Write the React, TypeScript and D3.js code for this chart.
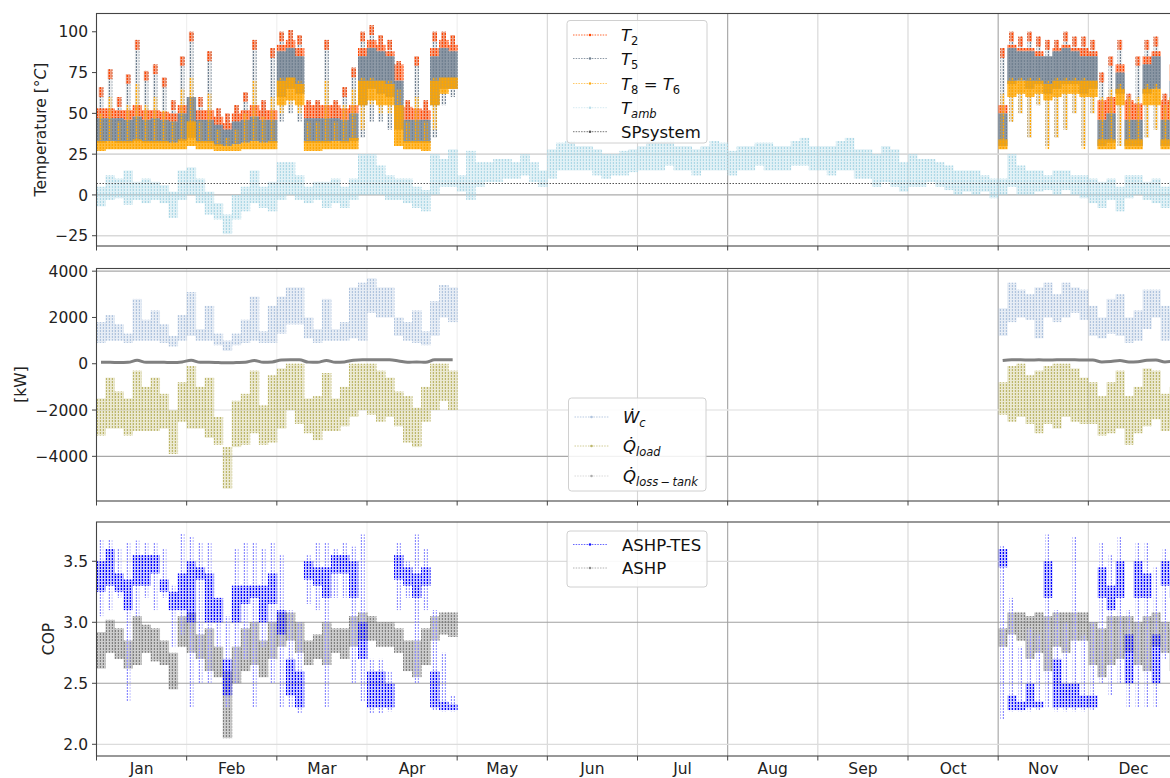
import React, { useEffect, useRef } from 'react';
import * as d3 from 'd3';

// x axis: hours of the year, 10 buckets of 73 h per month
const monthLabels = ['Jan', 'Feb', 'Mar', 'Apr', 'May', 'Jun', 'Jul', 'Aug', 'Sep', 'Oct', 'Nov', 'Dec'];
const HOURS_PER_MONTH = 730;
const BUCKET_HOURS = 73;

// buckets that hold heating-season data (Jan–Apr, Nov–Dec)
const heatingBuckets = [...d3.range(0, 40), ...d3.range(100, 120)];

// ---- panel 1: temperatures [°C] ----
const t2Top = [
  53, 53, 52, 52, 55, 52, 52, 51, 50, 55, 60, 52, 52, 48, 44, 50, 52, 55, 52, 52,
  92, 95, 90, 55, 55, 55, 55, 53, 55, 90, 95, 92, 88, 80, 54, 53, 52, 90, 95, 92,
  55, 92, 90, 90, 88, 85, 90, 92, 90, 90, 88, 58, 60, 80, 58, 56, 85, 88, 58, 80,
];
const t2Peak = [
  66, 77, 60, 74, 95, 76, 80, 72, 58, 85, 100, 60, 88, 53, 50, 55, 63, 95, 58, 90,
  100, 101, 98, 58, 58, 95, 58, 66, 78, 100, 104, 98, 95, 82, 58, 85, 58, 100, 100, 98,
  90, 100, 97, 100, 97, 95, 95, 100, 97, 97, 95, 75, 85, 95, 62, 85, 95, 97, 62, 85,
];
const t5Lo = [
  32, 33, 32, 32, 33, 32, 32, 32, 32, 33, 35, 32, 32, 30, 30, 31, 32, 33, 32, 32,
  60, 65, 62, 32, 32, 32, 33, 32, 33, 55, 65, 62, 60, 40, 32, 32, 32, 55, 65, 65,
  30, 68, 70, 65, 68, 62, 65, 68, 68, 62, 65, 30, 32, 62, 30, 30, 62, 65, 30, 55,
];
const t5Hi = [
  47, 47, 47, 46, 48, 46, 47, 46, 45, 50, 60, 46, 46, 43, 40, 45, 46, 48, 46, 46,
  88, 90, 85, 47, 47, 47, 47, 46, 50, 85, 90, 88, 85, 70, 46, 46, 46, 85, 90, 88,
  50, 90, 88, 88, 85, 85, 88, 90, 88, 85, 85, 46, 50, 75, 46, 46, 80, 85, 46, 70,
];
const t5Min = [
  32, 33, 32, 32, 33, 32, 32, 32, 32, 33, 35, 32, 32, 30, 30, 31, 32, 33, 32, 32,
  45, 50, 45, 32, 32, 32, 33, 32, 33, 35, 45, 45, 40, 32, 32, 32, 32, 35, 55, 60,
  30, 45, 50, 35, 55, 30, 35, 40, 50, 30, 50, 30, 30, 30, 30, 30, 35, 40, 30, 30,
];
const t8Lo = [
  27, 28, 28, 28, 28, 28, 28, 28, 28, 28, 30, 28, 28, 27, 27, 27, 28, 28, 28, 28,
  55, 58, 55, 27, 27, 28, 28, 28, 28, 55, 58, 55, 55, 30, 28, 28, 27, 55, 62, 65,
  28, 60, 62, 60, 62, 58, 60, 62, 62, 60, 60, 28, 28, 55, 28, 28, 55, 55, 28, 45,
];
const t8Hi = [
  33, 33, 33, 33, 34, 33, 33, 33, 32, 34, 45, 33, 33, 31, 30, 31, 32, 33, 32, 33,
  70, 72, 68, 33, 33, 33, 33, 33, 35, 70, 70, 70, 68, 55, 33, 33, 33, 70, 72, 72,
  34, 70, 70, 70, 70, 68, 70, 70, 70, 70, 70, 34, 34, 65, 34, 34, 65, 65, 34, 60,
];
const t8Min = [
  27, 28, 28, 28, 28, 28, 28, 28, 28, 28, 30, 28, 28, 27, 27, 27, 28, 28, 28, 28,
  50, 55, 50, 27, 27, 28, 28, 28, 28, 40, 55, 50, 50, 30, 28, 28, 27, 40, 62, 65,
  28, 45, 50, 35, 55, 28, 35, 40, 50, 28, 50, 28, 28, 30, 28, 28, 35, 40, 28, 30,
];
const t8Peak = [
  50, 60, 45, 55, 68, 55, 60, 52, 45, 65, 72, 45, 62, 40, 35, 40, 50, 70, 48, 60,
  72, 72, 70, 45, 45, 70, 45, 55, 65, 72, 72, 70, 70, 65, 45, 60, 45, 72, 72, 72,
  62, 72, 72, 72, 72, 70, 72, 72, 72, 72, 70, 60, 65, 68, 60, 60, 68, 68, 55, 62,
];
// ambient temperature, all 120 buckets
const tAmbLo = [
  -7, -3, -2, -6, -3, -5, -3, -5, -14, -3, 0, -5, -12, -15, -24, -15, -10, -5, -8, -10,
  -3, 0, -3, -5, -3, -8, -5, -8, -3, 0, 0, 0, -3, -3, -5, -8, -10, 0, 5, 5,
  2, -3, 5, 8, 8, 10, 10, 12, 8, 5, 10, 15, 15, 15, 15, 12, 10, 12, 12, 14,
  15, 15, 15, 18, 15, 15, 12, 15, 15, 15, 12, 15, 15, 18, 15, 15, 15, 18, 18, 15,
  15, 12, 15, 15, 10, 10, 5, 8, 5, 2, 5, 5, 8, 5, 3, 0, 2, 0, 2, -2,
  0, 5, 0, 0, 2, 3, 0, 3, 0, -2, -5, -8, -3, -10, -2, 0, -3, -5, -8, -5,
];
const tAmbHi = [
  5, 12, 10, 15, 8, 10, 8, 6, 2, 15, 17, 10, 2, -5, -12, 0, 5, 15, 5, 8,
  20, 20, 12, 5, 8, 8, 10, 5, 10, 25, 25, 18, 12, 10, 10, 5, 3, 25, 22, 28,
  12, 27, 20, 20, 22, 22, 20, 25, 20, 15, 28, 32, 33, 30, 30, 28, 25, 25, 27, 28,
  30, 33, 33, 35, 30, 30, 28, 30, 33, 32, 27, 30, 30, 32, 32, 30, 30, 33, 35, 30,
  30, 30, 33, 35, 28, 28, 25, 30, 28, 20, 25, 22, 22, 20, 18, 15, 15, 15, 12, 10,
  10, 25, 18, 15, 15, 12, 15, 15, 12, 12, 10, 8, 10, 5, 12, 12, 8, 10, 5, 8,
];
const spSystem = 7;

// ---- panel 2: powers [kW] ----
const wcLo = [
  900, 1000, 1000, 900, 1000, 1000, 1000, 900, 750, 1000, 1200, 1000, 1000, 800, 550, 800, 900, 1000, 900, 900,
  1300, 1700, 1700, 1100, 900, 1000, 1000, 1000, 1100, 1000, 2200, 2000, 2000, 1200, 1000, 900, 800, 1200, 2000, 1800,
  1200, 1800, 2000, 1900, 1100, 2000, 1800, 2000, 2200, 1900, 1200, 1100, 1300, 1200, 900, 1000, 1500, 2000, 1000, 1100,
];
const wcHi = [
  1800, 2100, 1700, 1300, 2800, 1900, 2300, 1700, 1200, 2100, 3100, 1500, 2500, 1300, 1000, 1300, 1900, 2900, 1400, 2500,
  2900, 3300, 3300, 2000, 1500, 2800, 1500, 1800, 3300, 3500, 3700, 3300, 3300, 2000, 1800, 2300, 1400, 2700, 3400, 3300,
  2400, 3500, 3200, 3000, 3300, 3500, 3000, 3500, 3300, 3200, 2500, 2000, 2800, 3000, 2000, 2300, 3200, 3200, 2500, 2200,
];
const qLoadLo = [
  -3100, -2800, -2800, -3100, -2900, -2900, -2900, -2800, -3900, -2500, -2800, -2800, -3200, -3500, -5400, -3600, -3500, -3000, -3500, -3400,
  -2800, -2000, -2600, -3000, -3300, -2900, -2900, -2700, -2300, -2000, -2200, -2500, -2300, -2700, -3400, -3600, -2500, -2000, -1600, -2000,
  -2200, -2500, -2300, -2600, -3000, -2600, -2800, -2300, -2500, -2600, -2600, -3100, -3000, -2800, -3500, -3000, -2700, -2400, -2900, -2800,
];
const qLoadHi = [
  -1500, -600, -1200, -1500, -300, -1000, -600, -1300, -2000, -800, -100, -1000, -600, -2300, -3600, -1600, -1300, -300, -1800, -500,
  -200, 0, 0, -1500, -1400, -400, -1500, -1000, 0, 0, 0, -300, -600, -1200, -1400, -1900, -1000, 0, 0, -300,
  -800, -100, 0, -500, -300, -100, 0, 0, -200, -600, -800, -1400, -800, -300, -1400, -1000, -200, -300, -1300, -1000,
];
const qLossTank = [
  60, 60, 50, 60, 150, 60, 70, 60, 50, 80, 150, 60, 60, 50, 40, 50, 60, 140, 60, 80,
  160, 170, 170, 70, 60, 140, 60, 80, 150, 170, 170, 170, 170, 120, 60, 80, 60, 170, 170, 170,
  140, 170, 170, 160, 170, 160, 170, 170, 170, 160, 160, 80, 100, 140, 80, 90, 150, 160, 80, 120,
];

// ---- panel 3: COP ----
const ashpLo = [
  2.62, 2.75, 2.7, 2.62, 2.65, 2.75, 2.68, 2.65, 2.45, 2.8, 2.75, 2.7, 2.6, 2.55, 2.05, 2.5, 2.6, 2.65, 2.55, 2.7,
  2.8, 2.85, 2.75, 2.65, 2.7, 2.65, 2.75, 2.7, 2.8, 2.85, 2.85, 2.8, 2.8, 2.75, 2.6, 2.55, 2.65, 2.85, 2.9, 2.88,
  2.8, 2.9, 2.85, 2.7, 2.75, 2.6, 2.8, 2.75, 2.85, 2.85, 2.65, 2.55, 2.65, 2.7, 2.75, 2.65, 2.6, 2.8, 2.75, 2.6,
];
const ashpHi = [
  2.92, 3.02, 2.95, 2.85, 3.05, 2.98, 2.95, 2.85, 2.75, 3.05, 3.08, 2.9, 2.95, 2.8, 2.6, 2.8, 2.95, 3.0, 2.85, 3.0,
  3.08, 3.08, 3.0, 2.85, 2.9, 3.0, 2.95, 2.95, 3.05, 3.08, 3.05, 3.0, 3.0, 2.95, 2.85, 2.85, 2.95, 3.05, 3.08, 3.08,
  2.95, 3.08, 3.08, 3.05, 3.08, 3.05, 3.08, 3.08, 3.08, 3.08, 3.0, 2.95, 3.05, 3.05, 3.05, 3.0, 3.05, 3.08, 3.0, 2.95,
];
const tesLo = [
  3.25, 3.3, 3.25, 3.1, 3.3, 3.3, 3.4, 3.25, 3.1, 3.1, 3.0, 3.35, 3.0, 3.0, 2.4, 3.0, 3.15, 3.2, 3.0, 3.15,
  2.9, 2.4, 2.3, 3.35, 3.3, 3.2, 3.4, 3.4, 3.2, 2.7, 2.3, 2.3, 2.3, 3.35, 3.3, 3.2, 3.3, 2.3, 2.28, 2.28,
  3.45, 2.28, 2.28, 2.3, 2.3, 3.2, 2.3, 2.3, 2.3, 2.3, 2.3, 3.2, 3.1, 3.2, 2.5, 3.2, 3.2, 2.5, 3.3, 3.2,
];
const tesHi = [
  3.5, 3.6, 3.4, 3.35, 3.55, 3.55, 3.55, 3.35, 3.25, 3.4, 3.5, 3.45, 3.4, 3.2, 2.7, 3.3, 3.3, 3.3, 3.3, 3.4,
  3.1, 2.7, 2.6, 3.5, 3.45, 3.45, 3.55, 3.55, 3.5, 3.0, 2.6, 2.6, 2.5, 3.55, 3.45, 3.4, 3.45, 2.6, 2.35, 2.33,
  3.6, 2.4, 2.35, 2.5, 2.35, 3.5, 2.7, 2.5, 2.5, 2.4, 2.4, 3.45, 3.3, 3.5, 2.9, 3.5, 3.4, 2.9, 3.5, 3.4,
];
const tesMin = [
  3.05, 3.1, 3.2, 2.35, 3.05, 3.2, 3.1, 3.2, 2.8, 2.9, 2.3, 2.5, 2.5, 2.8, 2.3, 2.5, 2.7, 2.3, 2.8, 2.5,
  2.3, 2.3, 2.25, 3.15, 3.1, 2.3, 3.2, 3.2, 2.5, 2.35, 2.25, 2.25, 2.27, 3.1, 3.2, 2.5, 3.1, 2.28, 2.27, 2.27,
  2.2, 2.27, 2.27, 2.27, 2.28, 2.3, 2.27, 2.27, 2.27, 2.27, 2.28, 2.5, 2.4, 2.5, 2.3, 2.3, 2.3, 2.3, 2.7, 2.6,
];
const tesMax = [
  3.68, 3.68, 3.6, 3.65, 3.67, 3.65, 3.65, 3.6, 3.3, 3.73, 3.7, 3.65, 3.65, 3.2, 3.05, 3.6, 3.65, 3.65, 3.6, 3.65,
  3.55, 3.1, 3.0, 3.55, 3.65, 3.65, 3.6, 3.65, 3.62, 3.72, 2.7, 2.7, 2.6, 3.65, 3.5, 3.72, 3.6, 3.1, 2.75, 2.4,
  3.63, 3.2, 2.8, 2.95, 2.9, 3.72, 3.1, 3.0, 3.7, 2.9, 3.0, 3.65, 3.55, 3.7, 3.1, 3.65, 3.65, 3.45, 3.6, 3.55,
];

const tempTicks = [-25, 0, 25, 50, 75, 100];
const powerTicks = [-4000, -2000, 0, 2000, 4000];
const copTicks = [2.0, 2.5, 3.0, 3.5];

const colors = {
  t2: '#ff4500', t5: '#708090', t8: '#ffa500', amb: '#add8e6', sp: '#555555',
  wc: '#b0c4de', qload: '#bdb76b', qloss: '#808080', tes: '#0000ff', tesLine: '#8c8cff', ashp: '#808080',
};

const FONT = 'DejaVu Sans, sans-serif';

const App = () => {
  const svgRef = useRef(null);

  useEffect(() => {
    const svg = d3.select(svgRef.current);
    svg.selectAll('*').remove();

    const left = 96.5;
    const right = 1178.5;
    const x = d3.scaleLinear().domain([0, 12 * HOURS_PER_MONTH]).range([left, right]);
    const bx = b => x(b * BUCKET_HOURS);
    const bw = x(BUCKET_HOURS) - x(0);

    // dotted textures, one per series colour
    const defs = svg.append('defs');
    Object.entries(colors).forEach(([k, c]) => {
      const p = defs.append('pattern').attr('id', `pat-${k}`)
        .attr('patternUnits', 'userSpaceOnUse').attr('width', 3).attr('height', 3);
      p.append('rect').attr('x', 0.8).attr('y', 0).attr('width', 1.2).attr('height', 2).attr('fill', c);
    });

    const panels = [
      { top: 13.5, bottom: 246, domain: [-31.3, 111.2], ticks: tempTicks, fmt: d => d3.format('d')(d),
        grid: [[25, '#d9d9d9', 1.6], [0, '#ababab', 1.2], [-25, '#d9d9d9', 1.6]], label: 'temp' },
      { top: 268.5, bottom: 501, domain: [-5930, 4115], ticks: powerTicks, fmt: d => d3.format('d')(d),
        grid: [[4000, '#a8a8a8', 1.1], [-2000, '#e8e8e8', 1.4], [-4000, '#a8a8a8', 1.1]], label: 'power' },
      { top: 522, bottom: 756, domain: [1.904, 3.822], ticks: copTicks, fmt: d => d3.format('.1f')(d),
        grid: [[3.5, '#dcdcdc', 1.3], [3.0, '#a0a0a0', 1.1], [2.5, '#a0a0a0', 1.1], [2.0, '#dcdcdc', 1.3]], label: 'cop' },
    ];

    const vGrid = m => (m === 7 || m === 10 ? '#a3a3a3' : m <= 4 ? '#eeeeee' : '#d6d6d6');

    panels.forEach((p, pi) => {
      const y = d3.scaleLinear().domain(p.domain).range([p.bottom, p.top]);
      const g = svg.append('g');
      const clipId = `clip-${pi}`;
      defs.append('clipPath').attr('id', clipId).append('rect')
        .attr('x', left).attr('y', p.top).attr('width', right - left).attr('height', p.bottom - p.top);

      // grid
      g.selectAll(null).data(d3.range(1, 12)).join('line')
        .attr('x1', m => x(m * HOURS_PER_MONTH)).attr('x2', m => x(m * HOURS_PER_MONTH))
        .attr('y1', p.top).attr('y2', p.bottom)
        .attr('stroke', vGrid).attr('stroke-width', 1.1);
      g.selectAll(null).data(p.grid).join('line')
        .attr('x1', left).attr('x2', right).attr('y1', d => y(d[0])).attr('y2', d => y(d[0]))
        .attr('stroke', d => d[1]).attr('stroke-width', d => d[2]);

      const plot = g.append('g').attr('clip-path', `url(#${clipId})`);

      // one rect per bucket between two series of values; solid tint + dotted texture
      const band = (buckets, lo, hi, key, solidOpacity, wFrac = 1) => {
        const rows = buckets.map((b, i) => ({ b, lo: lo[i], hi: hi[i] }));
        const off = (bw * (1 - wFrac)) / 2;
        [[colors[key], solidOpacity], [`url(#pat-${key})`, 1]].forEach(([fill, op]) => {
          if (op <= 0) return;
          plot.selectAll(null).data(rows).join('rect')
            .attr('x', d => bx(d.b) + off)
            .attr('width', bw * wFrac + (wFrac === 1 ? 0.4 : 0))
            .attr('y', d => y(Math.max(d.lo, d.hi)))
            .attr('height', d => Math.abs(y(d.lo) - y(d.hi)))
            .attr('fill', fill).attr('fill-opacity', op);
        });
      };

      if (p.label === 'temp') {
        band(d3.range(120), tAmbLo, tAmbHi, 'amb', 0.35);
        plot.append('line').attr('x1', left).attr('x2', right)
          .attr('y1', y(spSystem)).attr('y2', y(spSystem))
          .attr('stroke', colors.sp).attr('stroke-width', 1).attr('stroke-dasharray', '1.5,1.5');
        // spike columns and the T2 layer above T5
        band(heatingBuckets, t5Min, t2Peak, 't5', 0.15, 0.5);
        band(heatingBuckets, t2Top.map((v, i) => Math.max(v, t2Peak[i] - 6)), t2Peak, 't2', 0.45, 0.5);
        band(heatingBuckets, t5Hi, t2Top, 't2', 0.5);
        band(heatingBuckets, t5Lo, t5Hi, 't5', 0.8);
        band(heatingBuckets, t8Min, t8Peak, 't8', 0.15, 0.45);
        band(heatingBuckets, t8Lo, t8Hi, 't8', 0.75);
      }
      if (p.label === 'power') {
        band(heatingBuckets, wcLo, wcHi, 'wc', 0.3);
        band(heatingBuckets, qLoadLo, qLoadHi, 'qload', 0.3);
        const rows = heatingBuckets.map((b, i) => ({ b, v: qLossTank[i] }));
        [rows.slice(0, 40), rows.slice(40)].forEach(seg => {
          plot.append('path').datum(seg)
            .attr('d', d3.line().x(d => bx(d.b) + bw / 2).y(d => y(d.v)).curve(d3.curveMonotoneX))
            .attr('fill', 'none').attr('stroke', colors.qloss).attr('stroke-width', 3);
        });
      }
      if (p.label === 'cop') {
        band(heatingBuckets, ashpLo, ashpHi, 'ashp', 0.4);
        band(heatingBuckets, tesMin, tesMax, 'tesLine', 0, 0.5);
        band(heatingBuckets, tesLo, tesHi, 'tes', 0.2);
      }

      // spines
      g.append('rect').attr('x', left).attr('y', p.top).attr('width', right - left).attr('height', p.bottom - p.top)
        .attr('fill', 'none').attr('stroke', '#444').attr('stroke-width', 1.1);

      // y ticks
      const yt = g.append('g');
      yt.selectAll(null).data(p.ticks).join('line')
        .attr('x1', left - 4.5).attr('x2', left).attr('y1', d => y(d)).attr('y2', d => y(d))
        .attr('stroke', '#444').attr('stroke-width', 1);
      yt.selectAll(null).data(p.ticks).join('text')
        .attr('x', left - 8.5).attr('y', d => y(d)).attr('dy', '0.36em')
        .attr('text-anchor', 'end').attr('font-family', FONT).attr('font-size', 15.5).attr('fill', '#222')
        .text(d => p.fmt(d).replace('-', '\u2212'));

      // x ticks at month boundaries
      g.selectAll(null).data(d3.range(0, 13)).join('line')
        .attr('x1', m => x(m * HOURS_PER_MONTH)).attr('x2', m => x(m * HOURS_PER_MONTH))
        .attr('y1', p.bottom).attr('y2', p.bottom + 4.5)
        .attr('stroke', '#444').attr('stroke-width', 1);
    });

    // month labels
    svg.append('g').selectAll('text').data(monthLabels).join('text')
      .attr('x', (_, i) => x((i + 0.5) * HOURS_PER_MONTH)).attr('y', 773.5)
      .attr('text-anchor', 'middle').attr('font-family', FONT).attr('font-size', 15.5).attr('fill', '#222')
      .text(d => d);

    // y labels
    const yLabel = (bx0, cy, parts) => {
      const t = svg.append('text').attr('transform', `translate(${bx0},${cy}) rotate(-90)`)
        .attr('text-anchor', 'middle').attr('font-family', FONT).attr('font-size', 15.5).attr('fill', '#222');
      parts.forEach(([s, italic]) => t.append('tspan').attr('font-style', italic ? 'italic' : 'normal').text(s));
    };
    yLabel(45.5, 129.5, [['Temperature [', false], ['\u00b0', false], ['C', true], [']', false]]);
    yLabel(26, 384.5, [['[kW]', false]]);
    yLabel(54, 639, [['COP', false]]);

    // legends
    const legend = (box, entries) => {
      const g = svg.append('g');
      g.append('rect').attr('x', box.x).attr('y', box.y).attr('width', box.w).attr('height', box.h)
        .attr('rx', 3).attr('fill', '#fff').attr('fill-opacity', 0.85)
        .attr('stroke', '#d0d0d0').attr('stroke-width', 1);
      entries.forEach(e => {
        g.append('line').attr('x1', box.x + 6).attr('x2', box.x + 40).attr('y1', e.y).attr('y2', e.y)
          .attr('stroke', e.color).attr('stroke-width', 1).attr('stroke-dasharray', '1.5,1.2')
          .attr('stroke-opacity', e.alpha);
        g.append('circle').attr('cx', box.x + 23).attr('cy', e.y).attr('r', 1.3)
          .attr('fill', e.color).attr('fill-opacity', Math.min(1, e.alpha + 0.3));
        const t = g.append('text').attr('x', box.tx).attr('y', e.y + 6)
          .attr('font-family', FONT).attr('font-size', 16.5).attr('fill', '#111');
        e.parts.forEach(([s, style]) => {
          const ts = t.append('tspan').text(s);
          if (style.includes('i')) ts.attr('font-style', 'italic');
          if (style.includes('s')) ts.attr('font-size', 11.5).attr('dy', 4);
          if (style.includes('u')) ts.attr('dy', -4);
        });
      });
    };

    legend({ x: 567, y: 20.5, w: 140, h: 122.5, tx: 621 }, [
      { y: 35, color: colors.t2, alpha: 0.8, parts: [['T', 'i'], ['2', 's']] },
      { y: 58.5, color: colors.t5, alpha: 0.8, parts: [['T', 'i'], ['5', 's']] },
      { y: 83.5, color: colors.t8, alpha: 0.6, parts: [['T', 'i'], ['8', 's'], [' = ', 'u'], ['T', 'i'], ['6', 's']] },
      { y: 107.7, color: colors.amb, alpha: 0.5, parts: [['T', 'i'], ['amb', 'is']] },
      { y: 131.7, color: colors.sp, alpha: 0.8, parts: [['SPsystem', '']] },
    ]);
    legend({ x: 568.5, y: 398, w: 137.5, h: 93, tx: 623 }, [
      { y: 417, color: colors.wc, alpha: 0.9, parts: [['\u1e86', 'i'], ['c', 'is']] },
      { y: 446, color: colors.qload, alpha: 0.7, parts: [['Q\u0307', 'i'], ['load', 'is']] },
      { y: 476, color: colors.qloss, alpha: 0.3, parts: [['Q\u0307', 'i'], ['loss\u2009\u2212\u2009tank', 'is']] },
    ]);
    legend({ x: 567, y: 531, w: 140, h: 56, tx: 622 }, [
      { y: 544.5, color: colors.tes, alpha: 0.6, parts: [['ASHP-TES', '']] },
      { y: 568, color: colors.ashp, alpha: 0.6, parts: [['ASHP', '']] },
    ]);
  }, []);

  return (
    <svg ref={svgRef} width={1170} height={778}
      style={{ position: 'absolute', left: 0, top: 0, background: '#fff' }} />
  );
};

export default App;
